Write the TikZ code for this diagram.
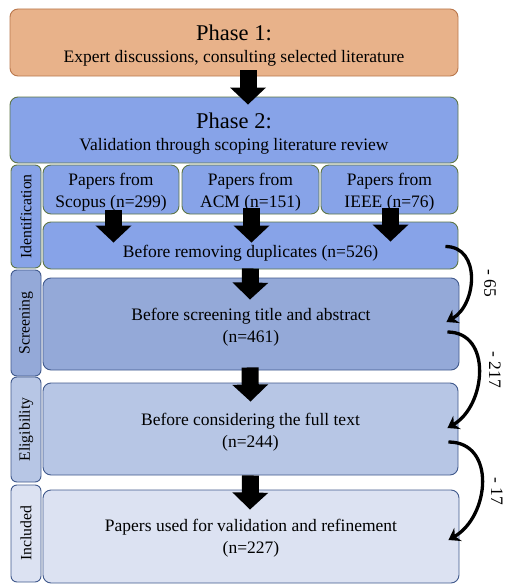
\documentclass[tikz,border=0pt]{standalone}
\usepackage{fontspec}
\setmainfont{Liberation Serif}
\usetikzlibrary{arrows.meta,calc}

\definecolor{orangefill}{HTML}{E8B28A}
\definecolor{orangeline}{HTML}{B9774C}
\definecolor{idfill}{HTML}{87A3E8}
\definecolor{idline}{HTML}{5E7646}
\definecolor{scrfill}{HTML}{94A9D8}
\definecolor{elifill}{HTML}{B7C6E5}
\definecolor{incfill}{HTML}{DCE2F2}
\definecolor{blueline}{HTML}{40598C}

\newcommand{\phasehead}[1]{{\fontsize{22.5}{26}\selectfont #1}}

\begin{document}
\begin{tikzpicture}[x=1pt,y=-1pt,
  box/.style={draw, rectangle, rounded corners=8pt, line width=0.9pt, align=center,
    inner sep=0pt, text depth=4pt, font=\fontsize{17.5}{22}\selectfont},
  side/.style={draw, rectangle, rounded corners=6pt, line width=0.9pt, rotate=90,
    inner sep=0pt, minimum height=30pt, font=\fontsize{15.7}{18}\selectfont},
  fat/.style={line width=17pt, -{Triangle[width=35pt,length=17pt]}},
  curvy/.style={line width=3.3pt, -{Stealth[width=15pt,length=11pt]}}]
\useasboundingbox (0,0) rectangle (505,586);

\node[box, fill=orangefill, draw=orangeline, minimum width=448pt, minimum height=67pt,
  text height=45pt] (ph1) at (234,42.5)
  {\phasehead{Phase 1:}\\ Expert discussions, consulting selected literature};
\node[box, fill=idfill, draw=idline, minimum width=448pt, minimum height=66pt,
  text height=44pt] (ph2) at (234,130)
  {\phasehead{Phase 2:}\\ Validation through scoping literature review};

  \node[side, fill=idfill, draw=idline, minimum width=103pt]   (idlab) at (26,216.5)  {Identification};
  \node[side, fill=scrfill, draw=blueline, minimum width=106pt] (scrlab) at (26,323) {Screening};
  \node[side, fill=elifill, draw=blueline, minimum width=105pt] (elilab) at (26,429.5) {Eligibility};
  \node[side, fill=incfill, draw=blueline, minimum width=97pt] (inclab) at (26,533.5)  {Included};

  \node[box, fill=idfill, draw=idline, minimum width=136pt, minimum height=49pt,
    text height=39pt] (scopus) at (111,189.5)
    {Papers from\\ Scopus (n=299)};
  \node[box, fill=idfill, draw=idline, minimum width=137pt, minimum height=49pt,
    text height=39pt] (acm) at (250.5,189.5)
    {Papers from\\ ACM (n=151)};
  \node[box, fill=idfill, draw=idline, minimum width=137pt, minimum height=49pt,
    text height=39pt] (ieee) at (389.5,189.5)
    {Papers from\\ IEEE (n=76)};
  \node[box, fill=idfill, draw=idline, minimum width=415pt, minimum height=47pt,
    text height=24pt, text depth=0pt] (dup) at (250.5,245.5)
    {Before removing duplicates (n=526)};
  \node[box, fill=scrfill, draw=blueline, minimum width=416pt, minimum height=92pt,
    text height=40pt] (scr) at (251,324)
    {Before screening title and abstract\\ (n=461)};
  \node[box, fill=elifill, draw=blueline, minimum width=415pt, minimum height=92pt,
    text height=40pt] (eli) at (250.5,429)
    {Before considering the full text\\ (n=244)};
  \node[box, fill=incfill, draw=blueline, minimum width=416pt, minimum height=93pt,
    text height=37pt] (inc) at (251,536.5)
    {Papers used for validation and refinement\\ (n=227)};

  \node[rotate=-90, font=\fontsize{17.5}{22}\selectfont] (m65)  at (490,283) {- 65};
  \node[rotate=-90, font=\fontsize{17.5}{22}\selectfont] (m217) at (495,370) {- 217};
  \node[rotate=-90, font=\fontsize{17.5}{22}\selectfont] (m17)  at (497,491) {- 17};

  \path[fat]
    ($(ph1.south)+(14,-6)$) edge ($(ph2.north)+(14,8)$)
    ($(scopus.south)+(2.5,-4)$) edge ($(dup.north -| scopus.south)+(2.5,21)$)
    ($(acm.south)+(1,-6)$) edge ($(dup.north -| acm.south)+(1,21)$)
    ($(ieee.south)+(1,-6)$) edge ($(dup.north -| ieee.south)+(1,20)$)
    ($(dup.south)+(0,-1)$) edge ($(scr.north)+(-1,22)$)
    ($(scr.south)+(-1,-3)$) edge ($(eli.north)+(0,19)$)
    ($(eli.south)+(0,0)$) edge ($(inc.north)+(-1,20)$);

  \path[curvy]
    ($(dup.east)+(-13,1)$) edge[out=0, in=30, looseness=1.2] ($(scr.east)+(-13,-2)$)
    ($(scr.east)+(-12,8)$) edge[out=0, in=30, looseness=1.2] ($(eli.east)+(-11,-1)$)
    ($(eli.east)+(-10,13)$) edge[out=0, in=30, looseness=1.25] ($(inc.east)+(-11,3.5)$);
\end{tikzpicture}
\end{document}
